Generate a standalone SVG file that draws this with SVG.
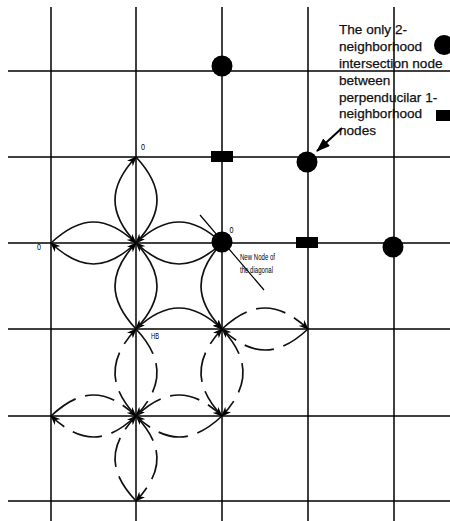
<svg xmlns="http://www.w3.org/2000/svg" width="450" height="521" viewBox="0 0 450 521">
<style>
.g{stroke:#000;stroke-width:1.5;fill:none}
.arc{fill:none;stroke:#111;stroke-width:1.7;marker-end:url(#ah)}
.dash{stroke-dasharray:30 10}
.node{fill:#000}
.txt{font-family:"Liberation Sans",Arial,sans-serif;font-size:13.6px;fill:#111;stroke:#111;stroke-width:0.25}
.sm{font-family:"Liberation Sans",Arial,sans-serif;font-size:8.5px;fill:#000}
</style>
<defs>
<marker id="ah" markerWidth="10" markerHeight="8" refX="9" refY="4" orient="auto" markerUnits="userSpaceOnUse">
<path d="M0,0 L10,4 L0,8 L3,4 z" fill="#000"/>
</marker>
<marker id="big" markerWidth="14" markerHeight="10" refX="13" refY="5" orient="auto" markerUnits="userSpaceOnUse">
<path d="M0,0 L14,5 L0,10 z" fill="#000"/>
</marker>
</defs>
<rect width="450" height="521" fill="#fff"/>
<g id="grid" class="g">
<line x1="51" y1="7" x2="51" y2="521"/>
<line x1="136" y1="7" x2="136" y2="521"/>
<line x1="222" y1="7" x2="222" y2="521"/>
<line x1="308" y1="7" x2="308" y2="521"/>
<line x1="394" y1="7" x2="394" y2="521"/>
<line x1="8" y1="71" x2="450" y2="71"/>
<line x1="8" y1="157" x2="450" y2="157"/>
<line x1="8" y1="243" x2="450" y2="243"/>
<line x1="8" y1="329" x2="450" y2="329"/>
<line x1="8" y1="416" x2="450" y2="416"/>
<line x1="8" y1="501" x2="450" y2="501"/>
</g>
<g id="connectors">
<!-- solid petals around (136,243) -->
<path class="arc" d="M136,243 C108,213 108,187 136,157"/>
<path class="arc" d="M136,157 C164,187 164,213 136,243"/>
<path class="arc" d="M136,243 C106,271 81,271 51,243"/>
<path class="arc" d="M51,243 C81,215 106,215 136,243"/>
<path class="arc" d="M136,243 C166,215 192,215 222,243"/>
<path class="arc" d="M222,243 C192,271 166,271 136,243"/>
<path class="arc" d="M136,243 C164,273 164,299 136,329"/>
<path class="arc" d="M136,329 C108,299 108,273 136,243"/>
<!-- solid partial arcs into (222,329) -->
<path class="arc" d="M136,329 C166,301 192,301 222,329"/>
<path class="arc" d="M222,243 C194,273 194,299 222,329"/>
<!-- dashed petals of (222,329) -->
<path class="arc dash" d="M222,329 C252,301 278,301 308,329"/>
<path class="arc dash" d="M308,329 C278,357 252,357 222,329"/>
<path class="arc dash" d="M222,329 C250,359 250,386 222,416"/>
<path class="arc dash" d="M222,416 C194,386 194,359 222,329"/>
<!-- dashed petals of (136,416) -->
<path class="arc dash" d="M136,416 C108,386 108,359 136,329"/>
<path class="arc dash" d="M136,329 C164,359 164,386 136,416"/>
<path class="arc dash" d="M136,416 C106,444 81,444 51,416"/>
<path class="arc dash" d="M51,416 C81,388 106,388 136,416"/>
<path class="arc dash" d="M136,416 C166,388 192,388 222,416"/>
<path class="arc dash" d="M222,416 C192,444 166,444 136,416"/>
<path class="arc dash" d="M136,416 C164,446 164,471 136,501"/>
<path class="arc dash" d="M136,501 C108,471 108,446 136,416"/>
<!-- diagonal -->
<line x1="200" y1="215" x2="264" y2="290" stroke="#000" stroke-width="1.2"/>
<!-- annotation arrow -->
<line x1="342" y1="128" x2="317" y2="151" stroke="#000" stroke-width="2" marker-end="url(#big)"/>
</g>
<g id="n-circle-1"><circle class="node" cx="222" cy="66" r="10.5"/></g>
<g id="n-circle-2"><circle class="node" cx="307" cy="162" r="10.5"/></g>
<g id="n-circle-3"><circle class="node" cx="222" cy="242" r="10.5"/></g>
<g id="n-circle-4"><circle class="node" cx="393" cy="247" r="10.5"/></g>
<g id="n-rect-1"><rect class="node" x="211" y="151" width="22" height="11"/></g>
<g id="n-rect-2"><rect class="node" x="296" y="237" width="22" height="11"/></g>
<g id="legend">
<circle class="node" cx="444" cy="45" r="10"/>
<rect class="node" x="436" y="110" width="22" height="11"/>
<text class="txt" x="339" y="34">The only 2-</text>
<text class="txt" x="339" y="51">neighborhood</text>
<text class="txt" x="339" y="67.5">intersection node</text>
<text class="txt" x="339" y="84.5">between</text>
<text class="txt" x="339" y="101.5">perpenducilar 1-</text>
<text class="txt" x="339" y="118">neighborhood</text>
<text class="txt" x="339" y="135">nodes</text>
</g>
<g id="labels">
<text class="sm" x="141" y="150" textLength="4" lengthAdjust="spacingAndGlyphs">0</text>
<text class="sm" x="37" y="249.5" textLength="4" lengthAdjust="spacingAndGlyphs">0</text>
<text class="sm" x="229.5" y="233" textLength="4" lengthAdjust="spacingAndGlyphs">0</text>
<text class="sm" x="151" y="338.5" textLength="8" lengthAdjust="spacingAndGlyphs">HB</text>
<text class="sm" x="240" y="260" textLength="35" lengthAdjust="spacingAndGlyphs">New Node of</text>
<text class="sm" x="240" y="272.5" textLength="33" lengthAdjust="spacingAndGlyphs">the diagonal</text>
</g>
</svg>
